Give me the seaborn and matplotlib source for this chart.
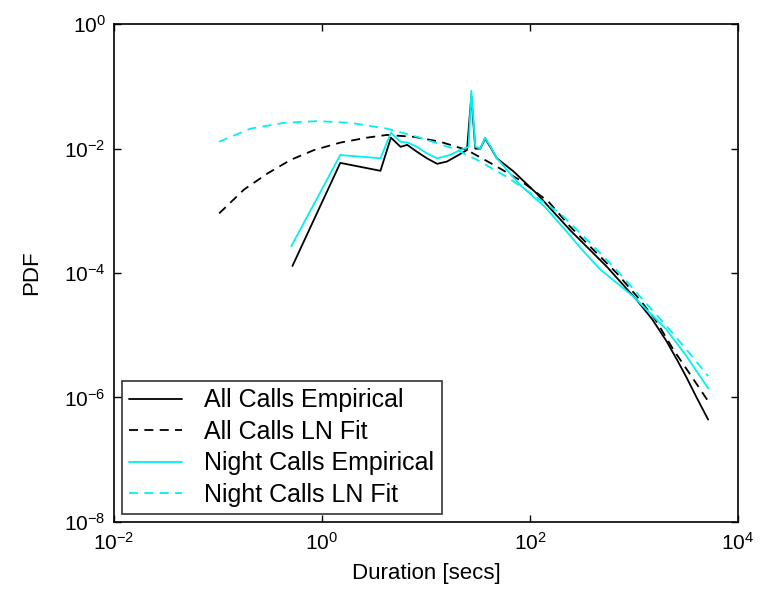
import numpy as np
import pandas as pd
import matplotlib
matplotlib.use("Agg")
import matplotlib.pyplot as plt
import seaborn as sns

# All calls, empirical PDF
all_emp_x = [0.52, 1.5, 3.65, 4.6, 5.7, 6.6, 8.2, 10.2, 12.8, 15.9, 20.6, 24.8, 27.3,
             29.8, 33.3, 37, 41.5, 48, 69.5, 116, 243, 547, 1062, 1500, 2060, 2600,
             3200, 4000, 5170]
all_emp_y = [1.3e-4, 5.9e-3, 4.4e-3, 1.5e-2, 1.07e-2, 1.15e-2, 8.9e-3, 7e-3, 5.7e-3, 6.2e-3,
             7.9e-3, 9.5e-3, 7e-2, 1.0e-2, 1.0e-2, 1.46e-2, 1.07e-2, 7e-3, 4.3e-3, 1.9e-3,
             4.9e-4, 1.27e-4, 3.7e-5, 1.8e-5, 8.0e-6, 4.0e-6, 2.1e-6, 1.0e-6, 4.4e-7]

# All calls, lognormal fit
all_fit_x = [0.1026, 0.178, 0.3, 0.5, 0.84, 1.5, 2.7, 4.2, 7.6, 13.7, 24.8, 44.7, 80.5,
             151, 243, 682, 1143, 1600, 2390, 3500, 5170]
all_fit_y = [9.1e-4, 2.2e-3, 4e-3, 6.6e-3, 9.5e-3, 1.25e-2, 1.5e-2, 1.66e-2, 1.55e-2, 1.29e-2,
             9.5e-3, 5.5e-3, 3.1e-3, 1.4e-3, 5.6e-4, 1e-4, 3.7e-5, 1.8e-5, 5.9e-6, 2.3e-6, 8.7e-7]

# Night calls, empirical PDF
night_emp_x = [0.507, 1.5, 3.65, 4.6, 5.7, 6.7, 8.2, 10.2, 12.8, 17, 21.4, 25.7, 27.3,
               29.8, 33.3, 37, 41.5, 48, 80.5, 140, 226, 330, 472, 986, 2060, 3200, 5170]
night_emp_y = [2.7e-4, 7.9e-3, 7e-3, 1.8e-2, 1.29e-2, 1.25e-2, 1.07e-2, 8.4e-3, 7e-3, 7.9e-3,
               9.5e-3, 1.07e-2, 8.5e-2, 1.07e-2, 1.0e-2, 1.5e-2, 1.1e-2, 7e-3, 2.6e-3, 1.15e-3,
               4.6e-4, 2.2e-4, 1.15e-4, 4.2e-5, 1.23e-5, 4.6e-6, 1.4e-6]

# Night calls, lognormal fit
night_fit_x = [0.1026, 0.206, 0.43, 0.9, 1.88, 4.2, 8.2, 18.5, 31, 60, 195, 327, 682,
               1143, 2060, 3200, 5170]
night_fit_y = [1.29e-2, 2.1e-2, 2.6e-2, 2.77e-2, 2.6e-2, 2.1e-2, 1.55e-2, 1e-2, 6.6e-3, 3.5e-3,
               9.1e-4, 3.9e-4, 1.12e-4, 4.2e-5, 1.4e-5, 5.9e-6, 2.2e-6]

labels = ['All Calls Empirical', 'All Calls LN Fit', 'Night Calls Empirical', 'Night Calls LN Fit']
x_ticks = [1e-2, 1e0, 1e2, 1e4]
y_ticks = [1e-8, 1e-6, 1e-4, 1e-2, 1e0]

sns.set_style("ticks")
plt.rcParams['font.family'] = ['Liberation Sans', 'DejaVu Sans']
plt.rcParams['mathtext.fontset'] = 'custom'
plt.rcParams['mathtext.rm'] = 'Liberation Sans'
plt.rcParams['text.color'] = 'black'
plt.rcParams['axes.labelcolor'] = 'black'

fig = plt.figure(figsize=(7.6, 5.91), dpi=100)
ax = fig.add_axes([0.15, 0.117, 0.821, 0.842])

cyan = '#00f0f0'
dashed = (0, (5, 3.5))
series = [
    (all_emp_x, all_emp_y, 'black', '-'),
    (all_fit_x, all_fit_y, 'black', dashed),
    (night_emp_x, night_emp_y, cyan, '-'),
    (night_fit_x, night_fit_y, cyan, dashed),
]
for (xs, ys, col, ls), lab in zip(series, labels):
    df = pd.DataFrame({'x': xs, 'y': ys})
    sns.lineplot(data=df, x='x', y='y', ax=ax, color=col, linestyle=ls,
                 linewidth=1.3, label=lab, sort=False, estimator=None)

ax.set_xscale('log')
ax.set_yscale('log')
ax.set_xlim(1e-2, 1e4)
ax.set_ylim(1e-8, 1e0)
ax.set_xticks(x_ticks)
ax.set_yticks(y_ticks)
ax.minorticks_off()
ax.tick_params(direction='in', top=True, right=True, length=5, width=1,
               labelsize=15, colors='black')
ax.tick_params(axis='x', pad=7)
ax.tick_params(axis='y', pad=6)
for sp in ax.spines.values():
    sp.set_linewidth(1.2)
    sp.set_color('black')

ax.set_xlabel('Duration [secs]', fontsize=16, labelpad=7)
ax.set_ylabel('PDF', fontsize=16, labelpad=16)

leg = ax.legend(loc='lower left', fontsize=18, frameon=True, fancybox=False,
                edgecolor='black', handlelength=2.1, borderaxespad=0.3,
                labelspacing=0.3, borderpad=0.3, handletextpad=0.9)
leg.get_frame().set_linewidth(1.2)

fig.savefig('out.png', dpi=100)
